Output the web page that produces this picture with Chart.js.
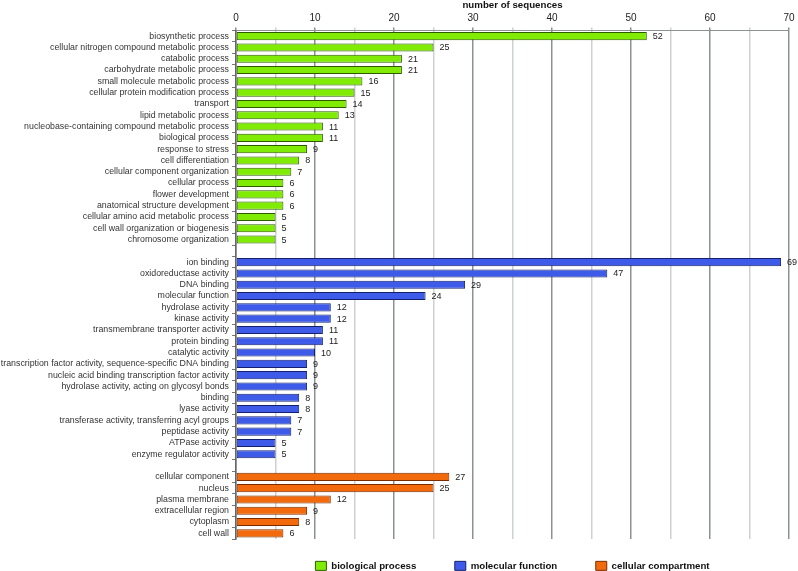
<!DOCTYPE html>
<html>
<head>
<meta charset="utf-8">
<script src="https://cdn.jsdelivr.net/npm/chart.js@4"></script>
<style>
  body { margin: 0; background: #fff; }
</style>
</head>
<body>
<canvas id="myChart" width="798" height="571"></canvas>
<script>
// biological process
var bpLabels = ["biosynthetic process", "cellular nitrogen compound metabolic process", "catabolic process",
  "carbohydrate metabolic process", "small molecule metabolic process", "cellular protein modification process",
  "transport", "lipid metabolic process", "nucleobase-containing compound metabolic process", "biological process",
  "response to stress", "cell differentiation", "cellular component organization", "cellular process",
  "flower development", "anatomical structure development", "cellular amino acid metabolic process",
  "cell wall organization or biogenesis", "chromosome organization"]
var bpValues = [52, 25, 21, 21, 16, 15, 14, 13, 11, 11, 9, 8, 7, 6, 6, 6, 5, 5, 5]

// molecular function
var mfLabels = ["ion binding", "oxidoreductase activity", "DNA binding", "molecular function", "hydrolase activity",
  "kinase activity", "transmembrane transporter activity", "protein binding", "catalytic activity",
  "transcription factor activity, sequence-specific DNA binding", "nucleic acid binding transcription factor activity",
  "hydrolase activity, acting on glycosyl bonds", "binding", "lyase activity",
  "transferase activity, transferring acyl groups", "peptidase activity", "ATPase activity", "enzyme regulator activity"]
var mfValues = [69, 47, 29, 24, 12, 12, 11, 11, 10, 9, 9, 9, 8, 8, 7, 7, 5, 5]

// cellular compartment
var ccLabels = ["cellular component", "nucleus", "plasma membrane", "extracellular region", "cytoplasm", "cell wall"]
var ccValues = [27, 25, 12, 9, 8, 6]

var xTicks = [0, 10, 20, 30, 40, 50, 60, 70]

// one category list, an empty row between the groups
var labels = bpLabels.concat([""], mfLabels, [""], ccLabels)
function fill(values, start) {
  var out = []
  for (let i = 0; i < labels.length; i++) out.push(null)
  for (let i = 0; i < values.length; i++) out[start + i] = values[i]
  return out
}
var bpData = fill(bpValues, 0)
var mfData = fill(mfValues, bpLabels.length + 1)
var ccData = fill(ccValues, bpLabels.length + mfLabels.length + 2)

// numbers at the end of each bar
const valueLabels = {
  id: 'valueLabels',
  afterDatasetsDraw(chart) {
    const ctx = chart.ctx
    ctx.save()
    ctx.font = '9px "Liberation Sans", Arial, sans-serif'
    ctx.fillStyle = '#222'
    ctx.textAlign = 'left'
    ctx.textBaseline = 'middle'
    chart.data.datasets.forEach((ds, di) => {
      chart.getDatasetMeta(di).data.forEach((bar, i) => {
        if (ds.data[i] == null) return
        ctx.fillText(ds.data[i], bar.x + 6, bar.y + 0.5)
      })
    })
    ctx.restore()
  }
}

new Chart("myChart", {
  type: "bar",
  data: {
    labels: labels,
    datasets: [{
      label: "biological process",
      data: bpData,
      backgroundColor: "#80ec06",
      borderColor: "#2f5a00"
    }, {
      label: "molecular function",
      data: mfData,
      backgroundColor: "#3d5ae8",
      borderColor: "#14206e"
    }, {
      label: "cellular compartment",
      data: ccData,
      backgroundColor: "#f26a0c",
      borderColor: "#7a2c00"
    }]
  },
  plugins: [valueLabels],
  options: {
    indexAxis: 'y',
    responsive: false,
    animation: false,
    layout: { padding: { left: 0, right: 9, top: 0, bottom: 0 } },
    datasets: {
      bar: {
        grouped: false,
        borderWidth: 1,
        borderSkipped: false,
        categoryPercentage: 1,
        barPercentage: 0.72
      }
    },
    scales: {
      x: {
        position: 'top',
        min: 0,
        max: 70,
        afterBuildTicks: function(axis) {
          var t = []
          for (let v = 0; v <= 70; v += 5) t.push({ value: v })
          axis.ticks = t
        },
        afterFit: function(axis) { axis.height = 30.5 },
        ticks: {
          color: '#222',
          padding: 3,
          font: { family: '"Liberation Sans", Arial, sans-serif', size: 10 },
          callback: function(v) { return xTicks.indexOf(v) >= 0 ? v : '' }
        },
        grid: {
          lineWidth: 1.5,
          tickLength: 3,
          color: function(c) {
            return c.tick && c.tick.value % 10 === 0 ? '#8c9191' : '#cdd1d1'
          }
        },
        border: { display: true, color: '#8c9191', width: 1 },
        title: {
          display: true,
          text: 'number of sequences',
          color: '#111',
          padding: { top: 0, bottom: 1 },
          font: { family: '"Liberation Sans", Arial, sans-serif', size: 9.7, weight: 'bold' }
        }
      },
      y: {
        afterFit: function(axis) { axis.width = 236 },
        ticks: {
          color: '#333',
          padding: 3,
          autoSkip: false,
          font: { family: '"Liberation Sans", Arial, sans-serif', size: 8.8 }
        },
        grid: {
          drawOnChartArea: false,
          tickLength: 4,
          color: '#777'
        },
        border: { display: true, color: '#666', width: 1.5 }
      }
    },
    plugins: {
      tooltip: { enabled: false },
      legend: {
        position: 'bottom',
        fullSize: false,
        maxHeight: 32,
        labels: {
          boxWidth: 11,
          boxHeight: 9,
          padding: 22,
          color: '#111',
          font: { family: '"Liberation Sans", Arial, sans-serif', size: 9.7, weight: 'bold' },
          generateLabels: function(chart) {
            var items = Chart.defaults.plugins.legend.labels.generateLabels(chart)
            items.forEach(function(it, i) {
              it.lineWidth = 1
              // widen the gap between legend entries
              if (i < items.length - 1) it.text = it.text + '\u2002\u2002\u2002\u2009'
            })
            return items
          }
        }
      }
    }
  }
});
</script>
</body>
</html>
